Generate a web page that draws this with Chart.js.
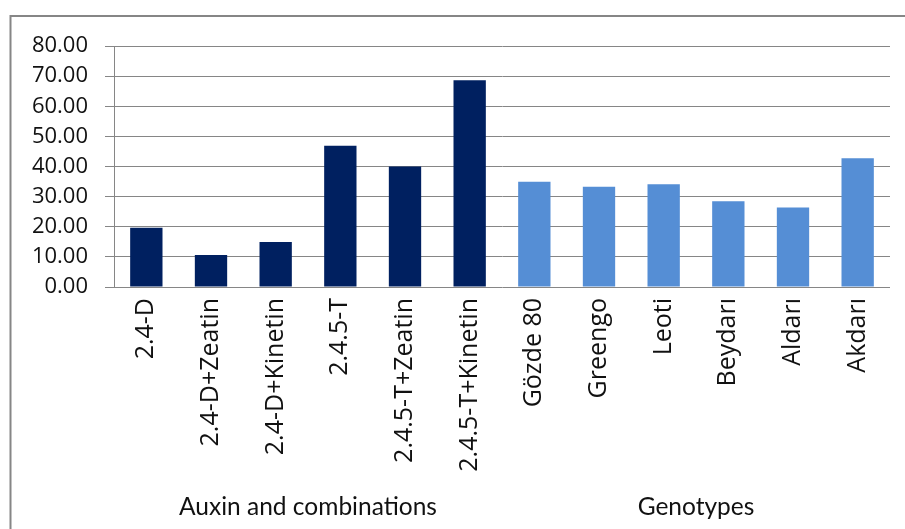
<!DOCTYPE html>
<html>
<head>
<meta charset="utf-8">
<script src="https://cdn.jsdelivr.net/npm/chart.js@4/dist/chart.umd.min.js"></script>
<style>
  html, body { margin: 0; padding: 0; background: #ffffff; overflow: hidden; }
  #wrap { width: 905px; height: 529px; position: relative; }
</style>
</head>
<body>
<div id="wrap"><canvas id="chart" width="905" height="529"></canvas></div>
<script>
// Treatments (auxins alone and with cytokinins)
const auxinLabels = ['2.4-D', '2.4-D+Zeatin', '2.4-D+Kinetin', '2.4.5-T', '2.4.5-T+Zeatin', '2.4.5-T+Kinetin'];
const auxinValues = [19.7, 10.6, 14.9, 46.9, 40.0, 68.6];

// Sorghum genotypes
const genotypeLabels = ['Gözde 80', 'Greengo', 'Leoti', 'Beydarı', 'Aldarı', 'Akdarı'];
const genotypeValues = [34.9, 33.3, 34.1, 28.5, 26.4, 42.7];

// Group captions under the category labels
const groupLabels = ['Auxin and combinations', 'Genotypes'];

// Value axis range
const yMin = 0;
const yMax = 80;
const yStep = 10;

const auxinColor = '#002060';
const genotypeColor = '#558ED5';
const lineGrey = '#868686';
const textColor = '#111111';

const categories = auxinLabels.concat(genotypeLabels);
const values = auxinValues.concat(genotypeValues);
const barColors = auxinLabels.map(() => auxinColor).concat(genotypeLabels.map(() => genotypeColor));

// Thin grey frame around the chart area (top and left edges visible)
const framePlugin = {
  id: 'frame',
  beforeDraw(chart) {
    const ctx = chart.ctx;
    ctx.save();
    ctx.strokeStyle = lineGrey;
    ctx.lineWidth = 2;
    ctx.beginPath();
    ctx.moveTo(10.5, 540);
    ctx.lineTo(10.5, 16);
    ctx.lineTo(920, 16);
    ctx.stroke();
    ctx.restore();
  }
};

new Chart(document.getElementById('chart'), {
  type: 'bar',
  data: {
    labels: categories,
    datasets: [{
      data: values,
      backgroundColor: barColors,
      borderWidth: 0,
      barPercentage: 0.5,
      categoryPercentage: 1.0
    }]
  },
  options: {
    responsive: false,
    animation: false,
    devicePixelRatio: 1,
    layout: { padding: { left: 12, right: 15, top: 46, bottom: 0 } },
    plugins: {
      legend: { display: false },
      tooltip: { enabled: false }
    },
    scales: {
      x: {
        type: 'category',
        offset: true,
        weight: 0,
        grid: { display: false, drawTicks: false, tickLength: 0 },
        border: { display: false },
        ticks: {
          autoSkip: false,
          minRotation: 90,
          maxRotation: 90,
          padding: 11,
          color: textColor,
          font: { family: 'Open Sans', size: 25 }
        },
        afterFit(scale) { scale.height = 195; }
      },
      x2: {
        type: 'category',
        labels: groupLabels,
        position: 'bottom',
        offset: true,
        weight: 1,
        grid: { display: false, drawTicks: false, tickLength: 0 },
        border: { display: false },
        ticks: {
          autoSkip: false,
          maxRotation: 0,
          padding: 10,
          color: textColor,
          font: { family: 'Lato', size: 24.5 }
        },
        afterFit(scale) { scale.height = 47; }
      },
      y: {
        min: yMin,
        max: yMax,
        grid: { color: lineGrey, lineWidth: 1, tickLength: 9, drawTicks: true },
        border: { display: true, color: lineGrey, width: 1 },
        ticks: {
          stepSize: yStep,
          padding: 17,
          color: textColor,
          font: { family: 'Open Sans', size: 22 },
          callback: (v) => Number(v).toFixed(2)
        },
        afterFit(scale) { scale.width = 102; }
      }
    }
  },
  plugins: [framePlugin]
});
</script>
</body>
</html>
